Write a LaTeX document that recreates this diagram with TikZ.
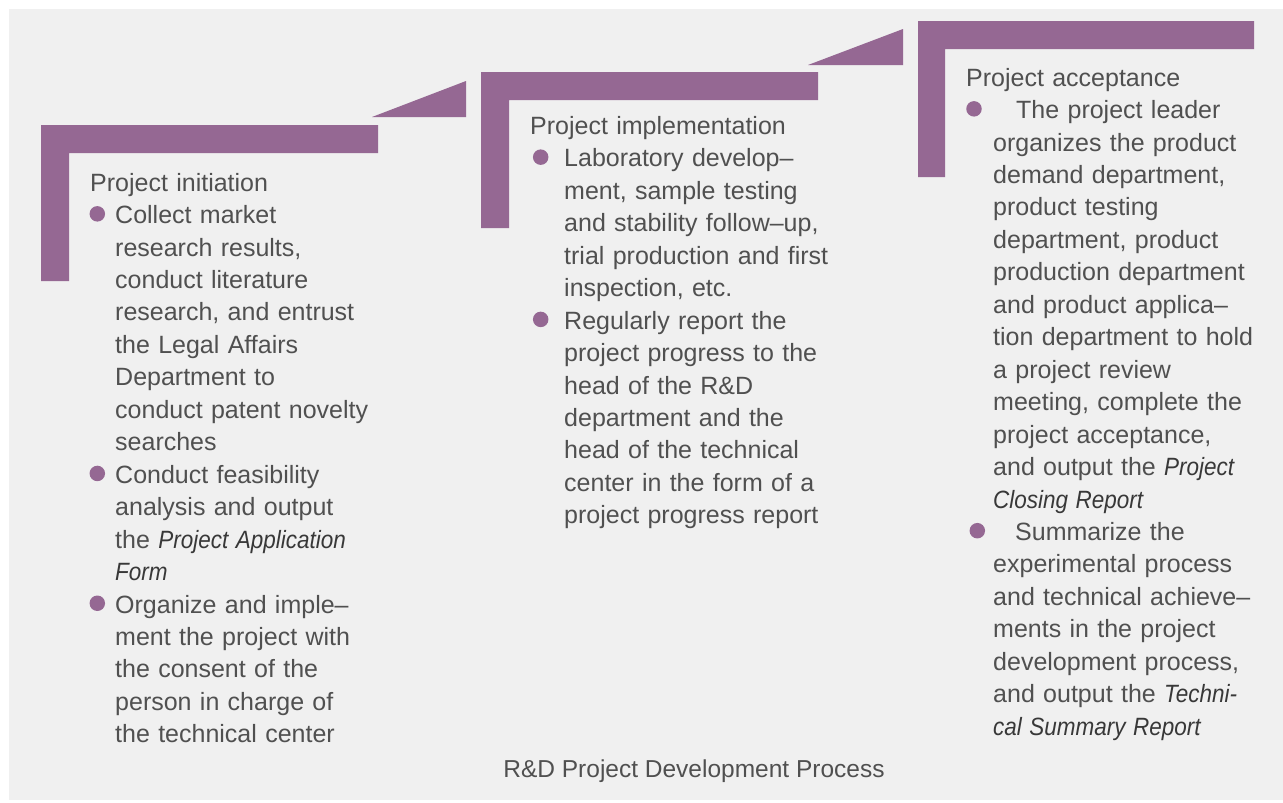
\documentclass[tikz,border=0pt]{standalone}
\usepackage{graphicx}
\usepackage{fontspec}
\setmainfont{Liberation Sans}
\definecolor{barpurple}{HTML}{956893}
\definecolor{bggray}{HTML}{F0F0F0}
\definecolor{textgray}{HTML}{505050}
\definecolor{itgray}{HTML}{383838}
\newcommand{\ital}[1]{\scalebox{0.9}[1]{\itshape\color{itgray}#1}}
\begin{document}
\begin{tikzpicture}[x=1pt,y=-1pt,
  body/.style={font=\fontsize{25}{32.45}\selectfont, text=textgray, inner sep=0pt,
               anchor=north west, text width=420pt, align=left},
  dot/.style={circle, fill=barpurple, minimum size=15.5pt, inner sep=0pt},
  bar/.style={fill=barpurple, draw=none}]
\useasboundingbox (0,0) rectangle (1283,803);
\fill[white] (0,0) rectangle (1283,803);
\fill[bggray] (9,9) rectangle (1283,800);

% step shapes
\fill[bar] (41,125) -- (378,125) -- (378,153) -- (69,153) -- (69,281) -- (41,281) -- cycle;
\fill[bar] (372,117) -- (466,117) -- (466,81) -- cycle;
\fill[bar] (481,72) -- (818,72) -- (818,100) -- (509,100) -- (509,228) -- (481,228) -- cycle;
\fill[bar] (808,65) -- (903,65) -- (903,29) -- cycle;
\fill[bar] (918,21) -- (1254,21) -- (1254,49) -- (945,49) -- (945,177) -- (918,177) -- cycle;

% column 1 (baselines 191 + 32.45k)
\node[body] (t1) at (90,168.25) {\strut Project initiation};
\node[dot] (d11) at (97.3,213.85) {};
\node[body] (i11) at (115,200.7) {\strut Collect market\\research results,\\conduct literature\\research, and entrust\\the Legal Affairs\\Department to\\conduct patent novelty\\searches};
\node[dot] (d12) at (97.3,473.45) {};
\node[body] (i12) at (115,460.3) {\strut Conduct feasibility\\analysis and output\\the \ital{Project Application}\\\ital{Form}};
\node[dot] (d13) at (97.3,603.25) {};
\node[body] (i13) at (115,590.1) {\strut Organize and imple–\\ment the project with\\the consent of the\\person in charge of\\the technical center};

% column 2 (baselines 134.3 + 32.45k)
\node[body] (t2) at (530,111.55) {\strut Project implementation};
\node[dot] (d21) at (540.7,157.15) {};
\node[body] (i21) at (564,144) {\strut Laboratory develop–\\ment, sample testing\\and stability follow–up,\\trial production and first\\inspection, etc.};
\node[dot] (d22) at (540.7,319.4) {};
\node[body] (i22) at (564,306.25) {\strut Regularly report the\\project progress to the\\head of the R\&D\\department and the\\head of the technical\\center in the form of a\\project progress report};

% column 3 (baselines 86 + 32.45k)
\node[body] (t3) at (966,63.25) {\strut Project acceptance};
\node[dot] (d31) at (974,108.85) {};
\node[body] (i31) at (993,95.7) {\strut\hspace*{23pt}The project leader\\organizes the product\\demand department,\\product testing\\department, product\\production department\\and product applica–\\tion department to hold\\a project review\\meeting, complete the\\project acceptance,\\and output the \ital{Project}\\\ital{Closing Report}};
\node[dot] (d32) at (977.3,530.7) {};
\node[body] (i32) at (993,517.55) {\strut\hspace*{22pt}Summarize the\\experimental process\\and technical achieve–\\ments in the project\\development process,\\and output the \ital{Techni-}\\\ital{cal Summary Report}};

% caption
\node[font=\fontsize{24.5}{30}\selectfont, text=textgray, inner sep=0pt, anchor=base] (cap) at (694,777) {R\&D Project Development Process};
\end{tikzpicture}
\end{document}
